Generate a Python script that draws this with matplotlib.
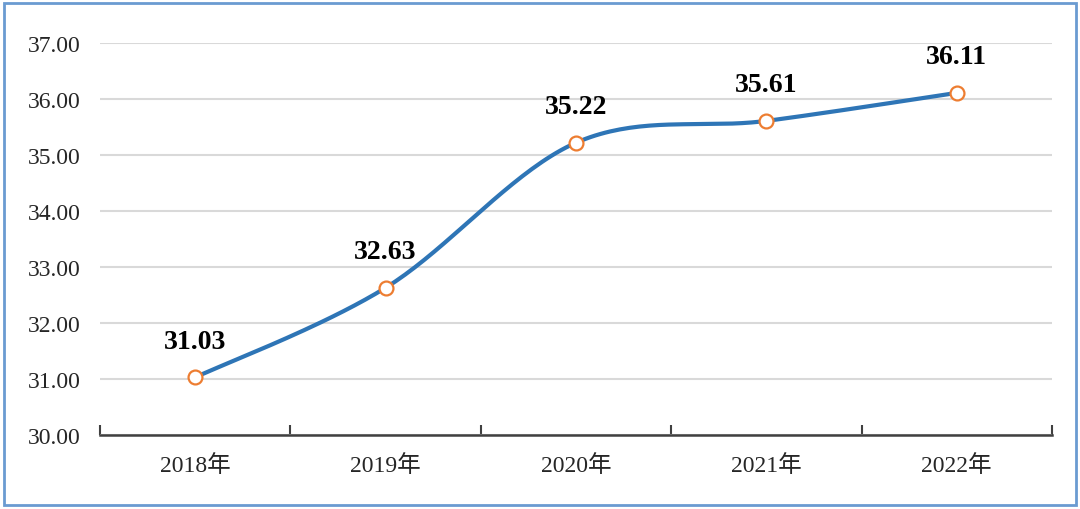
import numpy as np
import matplotlib
matplotlib.use("Agg")
import matplotlib.pyplot as plt
from matplotlib.patches import Rectangle

years = ["2018年", "2019年", "2020年", "2021年", "2022年"]
values = [31.03, 32.63, 35.22, 35.61, 36.11]
y_ticks = [30, 31, 32, 33, 34, 35, 36, 37]

plt.rcParams['font.family'] = ['Liberation Serif', 'Noto Sans CJK SC']


def smooth_line(xs, ys, n=40):
    # Excel-style smoothed line: cubic Bezier segments with Catmull-Rom control points
    pts = np.column_stack([xs, ys]).astype(float)
    ext = np.vstack([pts[0], pts, pts[-1]])
    out = []
    for i in range(len(pts) - 1):
        p0, p1, p2, p3 = ext[i], ext[i + 1], ext[i + 2], ext[i + 3]
        c1 = p1 + (p2 - p0) / 6
        c2 = p2 - (p3 - p1) / 6
        t = np.linspace(0, 1, n)[:, None]
        seg = ((1 - t) ** 3) * p1 + 3 * ((1 - t) ** 2) * t * c1 + 3 * (1 - t) * t ** 2 * c2 + t ** 3 * p2
        out.append(seg if i == 0 else seg[1:])
    out = np.vstack(out)
    return out[:, 0], out[:, 1]


fig = plt.figure(figsize=(10.8, 5.1), dpi=100)
ax = fig.add_axes([0.0926, 0.145, 0.8814, 0.7686])

x = np.arange(len(years))
# smoothing done in screen-like units so the curve shape is similar to Excel
sx, sy = smooth_line(x * 190.4, np.array(values) * 55.9)
ax.plot(sx / 190.4, sy / 55.9, color='#2E75B6', lw=3.0, solid_capstyle='round', zorder=3)
ax.plot(x, values, 'o', ms=10, mfc='white', mec='#ED7D31', mew=1.6, zorder=4)

for xi, v in zip(x, values):
    ax.annotate(f"{v:.2f}", (xi, v), xytext=(0, 17), textcoords='offset points',
                ha='center', va='bottom', fontsize=20, fontweight='bold',
                family='Liberation Serif')

ax.set_xlim(-0.5, len(years) - 0.5)
ax.set_ylim(30, 37)
ax.set_yticks(y_ticks)
ax.set_yticklabels([f"{t:.2f}" for t in y_ticks], fontsize=17, color='#262626')
ax.yaxis.grid(True, color='#D9D9D9', lw=1.5)
ax.set_axisbelow(True)
ax.tick_params(axis='y', length=0, pad=14)

ax.set_xticks(x)
ax.set_xticklabels(years, fontsize=17, color='#262626')
ax.tick_params(axis='x', which='major', length=0, pad=14)
ax.set_xticks(np.arange(len(years) + 1) - 0.5, minor=True)
ax.tick_params(axis='x', which='minor', direction='in', length=7, width=1.5, color='#404040')

for s in ['left', 'right', 'top']:
    ax.spines[s].set_visible(False)
ax.spines['bottom'].set_color('#404040')
ax.spines['bottom'].set_linewidth(1.8)

fig.patches.append(Rectangle((0.004, 0.008), 0.992, 0.984, transform=fig.transFigure,
                             fill=False, edgecolor='#6A9BD1', lw=2))

fig.savefig("out.png", dpi=100)
